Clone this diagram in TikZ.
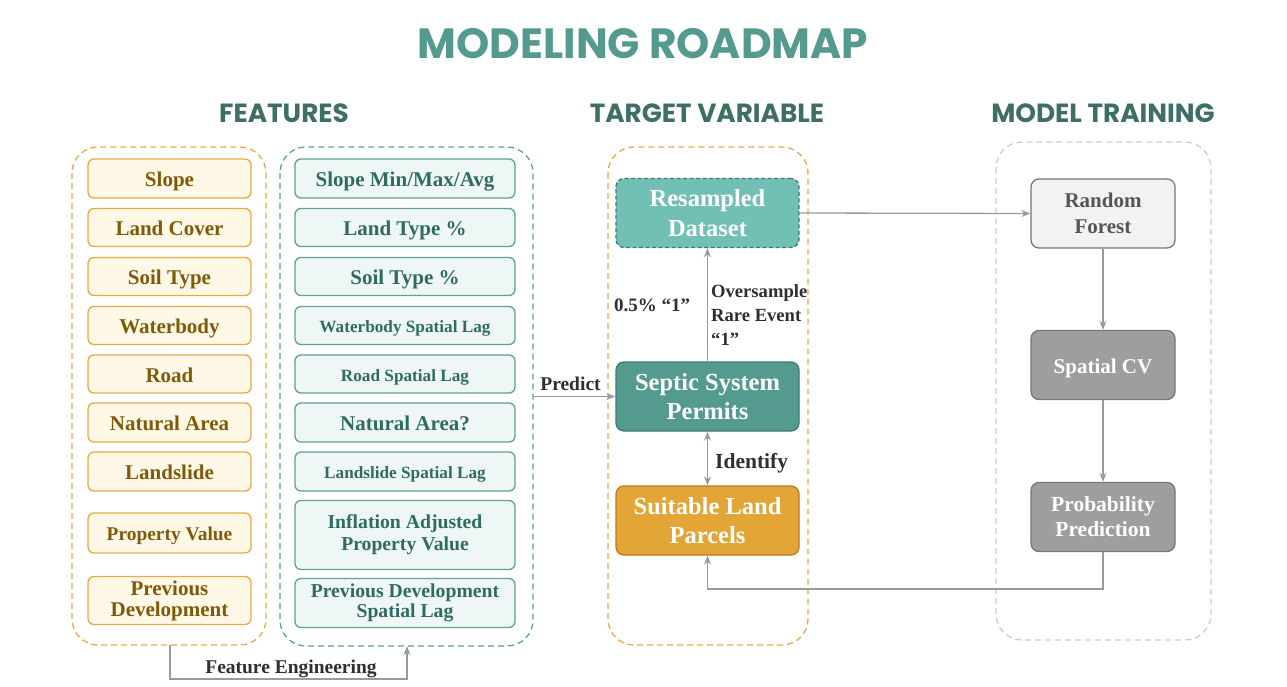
\documentclass[tikz,border=0pt]{standalone}
\usepackage{fontspec}
\setmainfont{Liberation Serif}
\newfontfamily\titlefont{Poppins}
\usetikzlibrary{arrows.meta}
\definecolor{titleteal}{HTML}{559A8E}
\definecolor{headteal}{HTML}{3E6E66}
\definecolor{orgdraw}{HTML}{E8AA45}
\definecolor{orgfill}{HTML}{FFF8E6}
\definecolor{orgtext}{HTML}{7F5A0A}
\definecolor{tealdraw}{HTML}{5FA196}
\definecolor{tealfill}{HTML}{EEF7F5}
\definecolor{tealtext}{HTML}{2F6B62}
\definecolor{graydash}{HTML}{CDCDCD}
\definecolor{arrowgray}{HTML}{9A9A9A}
\definecolor{labeltext}{HTML}{2E2E36}
\definecolor{resfill}{HTML}{72C0B5}
\definecolor{resdraw}{HTML}{3F7A71}
\definecolor{sepfill}{HTML}{559A8E}
\definecolor{suitfill}{HTML}{E3A535}
\definecolor{suitdraw}{HTML}{C07A1A}
\definecolor{rffill}{HTML}{F2F2F2}
\definecolor{boxgray}{HTML}{777777}
\definecolor{cvfill}{HTML}{9E9E9E}
\definecolor{rftext}{HTML}{555555}
\tikzset{
  container/.style={draw, dashed, dash pattern=on 6pt off 4pt, line width=1.3pt, rounded corners=26pt},
  lbox/.style={draw=orgdraw, fill=orgfill, line width=1.3pt, rounded corners=6pt, text=orgtext,
     font=\bfseries\fontsize{21}{22}\selectfont, align=center, minimum width=163pt, inner sep=0pt},
  mbox/.style={draw=tealdraw, fill=tealfill, line width=1.3pt, rounded corners=6pt, text=tealtext,
     font=\bfseries\fontsize{21}{22}\selectfont, align=center, minimum width=220pt, inner sep=0pt},
  oneline/.style={text height=20.5pt, text depth=4.5pt},
  onesmall/.style={text height=18.5pt, text depth=3.7pt, font=\bfseries\fontsize{17.2}{19}\selectfont},
  tbox/.style={line width=1.3pt, rounded corners=8pt, text=white,
     font=\bfseries\fontsize{24.5}{29.5}\selectfont, align=center, minimum width=183pt, minimum height=69pt, inner sep=0pt},
  mtbox/.style={draw=boxgray, line width=1.3pt, rounded corners=8pt,
     font=\bfseries\fontsize{21}{26}\selectfont, align=center, minimum width=144pt, minimum height=69pt, inner sep=0pt},
  conn/.style={draw=arrowgray, line width=1.3pt, -{Stealth[length=9pt,width=7pt]}},
  lbl/.style={text=labeltext, font=\bfseries\fontsize{19.5}{24}\selectfont, inner sep=0pt},
  head/.style={text=headteal, font=\titlefont\bfseries\fontsize{26.3}{30}\selectfont},
}
\begin{document}
\begin{tikzpicture}[x=1pt,y=-1pt]
\useasboundingbox[fill=white] (0,0) rectangle (1287,687);
% titles
\node[text=titleteal, font=\titlefont\bfseries\fontsize{42.3}{46}\selectfont] (title) at (643,44) {MODELING ROADMAP};
\node[head] (hfeat) at (284,113) {FEATURES};
\node[head] (htarget) at (707,113) {TARGET VARIABLE};
\node[head] (hmodel) at (1103,113) {MODEL TRAINING};
% containers
\draw[container, draw=orgdraw] (72,147) rectangle (266,645);
\draw[container, draw=tealdraw] (280,147) rectangle (533,646);
\draw[container, draw=orgdraw] (608,147) rectangle (808,645);
\draw[container, draw=graydash] (996,142) rectangle (1211,640);
\node[minimum width=194pt, minimum height=498pt, inner sep=0pt] (lcont) at (169,396) {};
\node[minimum width=253pt, minimum height=499pt, inner sep=0pt] (mcont) at (406.5,396.5) {};
% left boxes
\node[lbox, oneline, minimum height=39pt] (l1) at (169.5,178.5) {Slope};
\node[lbox, oneline, minimum height=38pt] (l2) at (169.5,227.5) {Land Cover};
\node[lbox, oneline, minimum height=38pt] (l3) at (169.5,276.5) {Soil Type};
\node[lbox, oneline, minimum height=38pt] (l4) at (169.5,325.5) {Waterbody};
\node[lbox, oneline, minimum height=38pt] (l5) at (169.5,374) {Road};
\node[lbox, oneline, minimum height=39pt] (l6) at (169.5,422.5) {Natural Area};
\node[lbox, oneline, minimum height=39pt] (l7) at (169.5,471.5) {Landslide};
\node[lbox, minimum height=40pt, text height=19pt, text depth=4.2pt, font=\bfseries\fontsize{19.4}{21}\selectfont] (l8) at (169.5,533) {Property Value};
\node[lbox, minimum height=48pt, font=\bfseries\fontsize{21}{21}\selectfont] (l9) at (169.5,600.5) {Previous\\Development};
% middle boxes
\node[mbox, oneline, minimum height=39pt] (m1) at (405,178.5) {Slope Min/Max/Avg};
\node[mbox, oneline, minimum height=38pt] (m2) at (405,227.5) {Land Type \%};
\node[mbox, oneline, minimum height=38pt] (m3) at (405,276.5) {Soil Type \%};
\node[mbox, onesmall, minimum height=38pt] (m4) at (405,325.5) {Waterbody Spatial Lag};
\node[mbox, onesmall, minimum height=38pt] (m5) at (405,374) {Road Spatial Lag};
\node[mbox, oneline, minimum height=39pt] (m6) at (405,422.5) {Natural Area?};
\node[mbox, onesmall, minimum height=39pt] (m7) at (405,471.5) {Landslide Spatial Lag};
\node[mbox, minimum height=69pt, font=\bfseries\fontsize{19.7}{22}\selectfont] (m8) at (405,535) {Inflation Adjusted\\Property Value};
\node[mbox, minimum height=49pt, font=\bfseries\fontsize{19.7}{19.5}\selectfont] (m9) at (405,603) {Previous Development\\Spatial Lag};
% target boxes
\node[tbox, draw=resdraw, fill=resfill, dashed, dash pattern=on 4pt off 2.5pt] (res) at (707.5,213) {Resampled\\Dataset};
\node[tbox, draw=resdraw, fill=sepfill] (sep) at (707.5,396.5) {Septic System\\Permits};
\node[tbox, draw=suitdraw, fill=suitfill] (suit) at (707.5,520.5) {Suitable Land\\Parcels};
% model boxes
\node[mtbox, fill=rffill, text=rftext] (rf) at (1103,213.5) {Random\\Forest};
\node[mtbox, oneline, fill=cvfill, text=white] (cv) at (1103,365) {Spatial CV};
\node[mtbox, fill=cvfill, text=white, font=\bfseries\fontsize{21.5}{25}\selectfont] (pp) at (1103,517) {Probability\\Prediction};
% connectors
\coordinate (fe1) at (170,679);
\coordinate (fe2) at (407,679);
\draw[conn] (lcont.south -| fe1) -- (fe1) -- (fe2) -- (mcont.south -| fe2);
\node[lbl, anchor=south] (felbl) at (291,677.5) {Feature Engineering};
\draw[conn] (mcont.east |- sep.west) -- (sep.west);
\node[lbl, anchor=south] (predlbl) at (570.5,390.5) {Predict};
\draw[conn] (sep.north) -- (res.north |- res.south);
\node[lbl, align=left, anchor=north west, font=\bfseries\fontsize{18.6}{24}\selectfont] (overlbl) at (711,284.5) {Oversample\\Rare Event\\``1''};
\node[lbl, anchor=center, font=\bfseries\fontsize{19}{20}\selectfont] (ratelbl) at (652,305) {0.5\% ``1''};
\draw[draw=arrowgray, line width=1.3pt, {Stealth[length=9pt,width=7pt]}-{Stealth[length=9pt,width=7pt]}] (sep.south) -- (suit.north);
\node[lbl, anchor=west, font=\bfseries\fontsize{21.5}{22}\selectfont] (idlbl) at (715,463) {Identify};
\draw[conn] (res.east) -- (rf.west);
\draw[conn] (rf.south) -- (cv.north);
\draw[conn] (cv.south) -- (pp.north);
\coordinate (fb1) at (1103,589);
\coordinate (fb2) at (707.5,589);
\draw[conn] (pp.south) -- (fb1) -- (fb2) -- (suit.south);
\end{tikzpicture}
\end{document}
